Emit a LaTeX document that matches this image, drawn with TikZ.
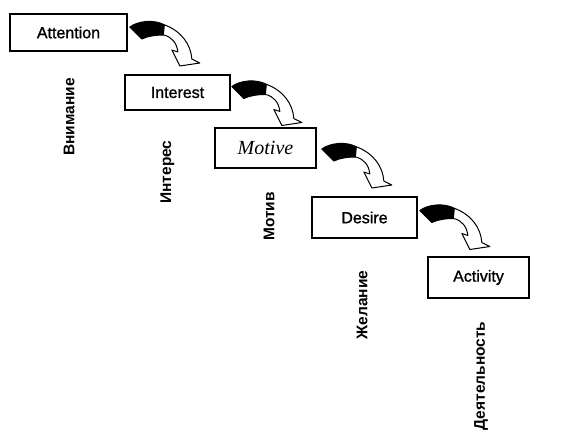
\documentclass[tikz,border=0pt]{standalone}
\usepackage{fontspec}
\setmainfont{Liberation Sans}
\newfontfamily\heavysans{Liberation Sans}[FakeBold=1.2]
\newfontfamily\serifit{Liberation Serif}
\usetikzlibrary{calc}
\tikzset{
  stage/.style={draw, line width=1.7pt, inner sep=0pt, font=\heavysans\fontsize{16}{19}\selectfont},
  rus/.style={rotate=90, inner sep=0pt, font=\bfseries\fontsize{15.5}{18}\selectfont},
  bendarrow/.pic={
    \draw[line width=1pt, fill=white, line join=round]
      (0,-1) .. controls (8,-7) and (24,-9) .. (35,-3)
      .. controls (51,3) and (61,16) .. (62,31) -- (70,35) -- (50,38) -- (42,22) -- (48,24)
      .. controls (47,15) and (42,9) .. (34,7)
      .. controls (26,7) and (18,8) .. (12,11) -- cycle;
    \fill (0,-1) .. controls (8,-7) and (24,-9) .. (35,-3) -- (34,7)
      .. controls (26,7) and (18,8) .. (12,11) -- cycle;
  }
}
\begin{document}
\begin{tikzpicture}[x=1pt,y=-1pt]
\useasboundingbox (0,0) rectangle (571,437);
\node[stage, minimum width=117pt, minimum height=37pt] (att) at (68.5,32.5) {Attention};
\node[stage, minimum width=105pt, minimum height=35pt] (int) at (177.5,92.5) {Interest};
\node[stage, minimum width=101pt, minimum height=40pt, font=\serifit\itshape\fontsize{20}{22}\selectfont] (mot) at (265.5,148) {Motive};
\node[stage, minimum width=105pt, minimum height=41pt] (des) at (364.5,217.5) {Desire};
\node[stage, minimum width=101pt, minimum height=41pt] (act) at (478.5,277.5) {Activity};

\node[rus] (l1) at (69,117) {Внимание};
\node[rus] (l2) at (167.5,172) {Интерес};
\node[rus] (l3) at (269,216.5) {Мотив};
\node[rus] (l4) at (362,305) {Желание};
\node[rus] (l5) at (481,376) {Деятельность};

\pic at ($(att.east)+(2,-4.5)$) {bendarrow};
\pic at ($(int.east)+(1,-5)$) {bendarrow};
\pic at ($(mot.east)+(5,2)$) {bendarrow};
\pic at ($(des.east)+(2,-6)$) {bendarrow};
\end{tikzpicture}
\end{document}
